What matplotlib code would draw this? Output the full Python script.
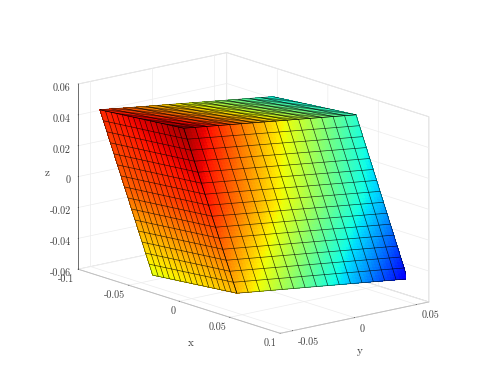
import numpy as np
import matplotlib
matplotlib.use('Agg')
import matplotlib.pyplot as plt

plt.rcParams['font.family'] = ['cmr10', 'DejaVu Sans']
plt.rcParams['axes.unicode_minus'] = False
plt.rcParams['grid.color'] = '#ececec'
plt.rcParams['grid.linewidth'] = 0.5

# corners of the sheared block: top left/front/right/back, bottom left/front/right
corner_x = [-0.0808, -0.0131, 0.0299, -0.0369, -0.0305, 0.0367, 0.0773]
corner_y = [-0.0582, -0.0457, 0.0584, 0.0457, -0.0566, -0.0434, 0.0613]
corner_z = [0.047, 0.047, 0.047, 0.047, -0.05, -0.05, -0.05]

# colour value read at top, middle, bottom of each vertical edge
left_edge_val = [0.87, 0.80, 0.63]
front_edge_val = [0.97, 0.87, 0.71]
right_edge_val = [0.40, 0.31, 0.11]
back_top_val = 0.36

top_face = [0, 1, 2, 3]
left_face = [4, 5, 1, 0]
right_face = [5, 6, 2, 1]

x_ticks = [-0.1, -0.05, 0, 0.05, 0.1]
x_labels = ['-0.1', '-0.05', '0', '0.05', '0.1']
y_ticks = [-0.05, 0, 0.05]
y_labels = ['-0.05', '0', '0.05']
z_ticks = [-0.06, -0.04, -0.02, 0, 0.02, 0.04, 0.06]
z_labels = ['-0.06', '-0.04', '-0.02', '0', '0.02', '0.04', '0.06']

cells = 15
sub = 4


def patch(values, face, n):
    v = np.array(values)[face]
    s, t = np.meshgrid(np.linspace(0, 1, n + 1), np.linspace(0, 1, n + 1))
    return (v[0] * (1 - s) * (1 - t) + v[1] * s * (1 - t)
            + v[2] * s * t + v[3] * (1 - s) * t)


def side_colors(edge_a, edge_b, n):
    # edges run top to bottom, the grid here runs bottom to top
    s, t = np.meshgrid(np.linspace(0, 1, n + 1), np.linspace(0, 1, n + 1))
    a = np.interp(1 - t, [0, 0.5, 1], edge_a)
    b = np.interp(1 - t, [0, 0.5, 1], edge_b)
    return a * (1 - s) + b * s


fig = plt.figure(figsize=(4.94, 3.76), dpi=100)
ax = fig.add_axes([92.8 / 494, 22.3 / 376, 313 / 494, 313 / 376], projection='3d')
ax.set_proj_type('ortho')
ax.computed_zorder = False
ax.set_xlim(-0.1, 0.1)
ax.set_ylim(-0.06, 0.06)
ax.set_zlim(-0.06, 0.06)
ax.set_box_aspect((0.2, 0.12, 0.12), zoom=1.3)
ax.view_init(elev=15, azim=-39.2)

n = cells * sub
top_vals = [left_edge_val[0], front_edge_val[0], right_edge_val[0], back_top_val, 0, 0, 0]
face_colors = [patch(top_vals, top_face, n),
               side_colors(left_edge_val, front_edge_val, n),
               side_colors(front_edge_val, right_edge_val, n)]

for i, face in enumerate([top_face, left_face, right_face]):
    X = patch(corner_x, face, n)
    Y = patch(corner_y, face, n)
    Z = patch(corner_z, face, n)
    ax.plot_surface(X, Y, Z, facecolors=plt.cm.jet(face_colors[i]), rstride=1, cstride=1,
                    shade=False, linewidth=0, antialiased=False, zorder=3 + i)
    ax.plot_wireframe(patch(corner_x, face, cells), patch(corner_y, face, cells),
                      patch(corner_z, face, cells), rstride=1, cstride=1,
                      color='black', linewidth=0.45, alpha=0.8, zorder=6 + i)

ax.set_xticks(x_ticks, x_labels)
ax.set_yticks(y_ticks, y_labels)
ax.set_zticks(z_ticks, z_labels)
ax.tick_params(labelsize=7.3, colors='#404040')
ax.tick_params(axis='x', pad=-5)
ax.tick_params(axis='y', pad=-5)
ax.tick_params(axis='z', pad=-5.5)
ax.zaxis.set_ticks_position('lower')

for t in ax.get_xticklabels():
    t.set_ha('right')
for t in ax.get_yticklabels():
    t.set_ha('left')
for t in ax.get_zticklabels():
    t.set_ha('right')

for axis, color in [(ax.xaxis, '#bfbfbf'), (ax.yaxis, '#bfbfbf'), (ax.zaxis, '#555555')]:
    axis.set_pane_color((1, 1, 1, 1))
    axis.pane.set_edgecolor('#d0d0d0')
    axis.pane.set_linewidth(0.6)
    axis.line.set_color(color)
    axis.line.set_linewidth(0.6)
    axis._axinfo['tick']['outward_factor'] = 0.02
    axis._axinfo['tick']['inward_factor'] = 0.0
    axis._axinfo['tick']['linewidth'] = {True: 0.5, False: 0.5}

fig.text(191 / 494, 1 - 343 / 376, 'x', fontsize=8, color='#404040', ha='center', va='center')
fig.text(360 / 494, 1 - 351 / 376, 'y', fontsize=8, color='#404040', ha='center', va='center')
fig.text(47 / 494, 1 - 173 / 376, 'z', fontsize=8, color='#404040', ha='center', va='center')

fig.savefig('out.png', dpi=100)
